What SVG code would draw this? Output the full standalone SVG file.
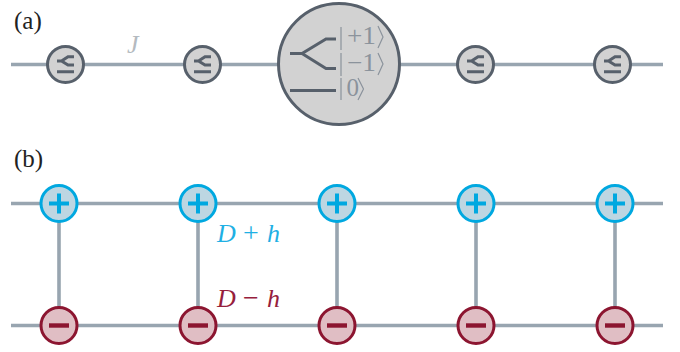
<svg xmlns="http://www.w3.org/2000/svg" width="680" height="352" viewBox="0 0 680 352">
<style>
.w{stroke:#98a5b0;stroke-width:3.6;fill:none}
.s{fill:#d2d2d2;stroke:#57606b;stroke-width:3}
.g{stroke:#57606b;fill:none;stroke-width:3}
.b{stroke:#57606b;fill:none;stroke-width:3}
.p{fill:#bdd6e2;stroke:#00a8e0;stroke-width:3}
.m{fill:#e0bec4;stroke:#8c1530;stroke-width:3}
.pb{stroke:#00a8e0;stroke-width:4;fill:none}
.mb{stroke:#8c1530;stroke-width:4.400;fill:none}
.t{font-family:"Liberation Serif",serif;font-size:25px;fill:#222}
.i{font-family:"Liberation Serif",serif;font-style:italic;font-size:26px}
.u{font-family:"Liberation Serif",serif;font-size:28px}
.k{font-family:"Liberation Serif",serif;font-size:25px;fill:#8b939c}
.a{stroke:#8b939c;stroke-width:1.200;fill:none}
</style>
<defs>
<g id="spin">
<circle r="18" class="s"/>
<path class="g" d="M-8.500 -3.500L-4 -3.500L2.500 -7.800L8.500 -7.800M-4 -3.500L2.500 0.500L8.500 0.500M-8.500 7.200L8.500 7.200"/>
</g>
</defs>
<g id="connectors">
<path class="w" d="M11 64.500H663M11 203.500H663M11 325.500H663"/>
<path class="w" d="M59 204V325M198 204V325M337 204V325M476 204V325M615 204V325"/>
</g>
<text class="t" x="14" y="29">(a)</text>
<text class="t" x="14" y="167">(b)</text>
<text class="i" x="127" y="53" fill="#b4bac0" font-size="24">J</text>
<g id="s1" transform="translate(65.500,64.500)"><use href="#spin"/></g>
<g id="s2" transform="translate(202.500,64.500)"><use href="#spin"/></g>
<g id="s3" transform="translate(475.500,64.500)"><use href="#spin"/></g>
<g id="s4" transform="translate(612.500,64.500)"><use href="#spin"/></g>
<g id="big">
<circle cx="339" cy="64" r="60.500" class="s"/>
<path class="b" d="M290 53.500H302L326 39H336M302 53.500L326 68.500H336M290 90.500H336"/>
<path class="a" d="M341 27V50M341 53V76M341 78V100"/>
<text class="k" x="347" y="44" textLength="29" lengthAdjust="spacingAndGlyphs">+1</text>
<text class="k" x="347" y="71" textLength="29" lengthAdjust="spacingAndGlyphs">−1</text>
<text class="k" x="346.500" y="96">0</text>
<path class="a" d="M378 26L383 37L378 48M378 53L383 64L378 75M358 78L363.500 89L358 100"/>
</g>
<g id="p1" transform="translate(59,203.500)"><circle r="18" class="p"/><path class="pb" d="M-10 0H10M0 -10V10"/></g>
<g id="p2" transform="translate(198,203.500)"><circle r="18" class="p"/><path class="pb" d="M-10 0H10M0 -10V10"/></g>
<g id="p3" transform="translate(337,203.500)"><circle r="18" class="p"/><path class="pb" d="M-10 0H10M0 -10V10"/></g>
<g id="p4" transform="translate(476,203.500)"><circle r="18" class="p"/><path class="pb" d="M-10 0H10M0 -10V10"/></g>
<g id="p5" transform="translate(615,203.500)"><circle r="18" class="p"/><path class="pb" d="M-10 0H10M0 -10V10"/></g>
<g id="m1" transform="translate(59,325.500)"><circle r="18" class="m"/><path class="mb" d="M-10 0H10"/></g>
<g id="m2" transform="translate(198,325.500)"><circle r="18" class="m"/><path class="mb" d="M-10 0H10"/></g>
<g id="m3" transform="translate(337,325.500)"><circle r="18" class="m"/><path class="mb" d="M-10 0H10"/></g>
<g id="m4" transform="translate(476,325.500)"><circle r="18" class="m"/><path class="mb" d="M-10 0H10"/></g>
<g id="m5" transform="translate(615,325.500)"><circle r="18" class="m"/><path class="mb" d="M-10 0H10"/></g>
<g fill="#1fb0e4"><text class="i" x="217" y="241.500">D</text><text class="u" x="243" y="241.500">+</text><text class="i" x="267" y="241.500">h</text></g>
<g fill="#96203c"><text class="i" x="217" y="306.500">D</text><text class="u" x="243" y="306.500">−</text><text class="i" x="267" y="306.500">h</text></g>
</svg>
